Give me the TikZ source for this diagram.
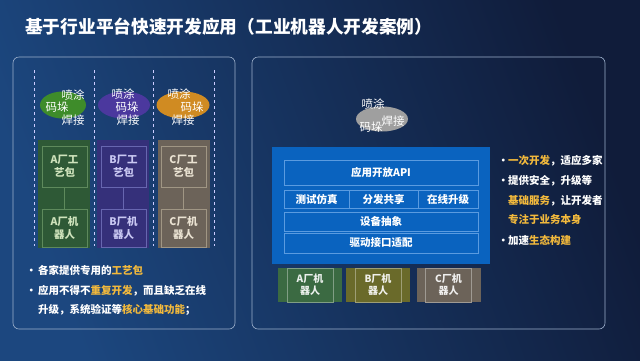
\documentclass[tikz,border=0pt]{standalone}
\usepackage{fontspec}
\setmainfont{Noto Sans CJK SC}
\usetikzlibrary{positioning,shapes.geometric,calc}
\definecolor{bgleft}{HTML}{1C477F}
\definecolor{bgright}{HTML}{101C3A}
\definecolor{panelline}{HTML}{9DB0CC}
\definecolor{hlgold}{HTML}{F2B93C}
\definecolor{blobgreen}{HTML}{3E8C2A}
\definecolor{blobpurple}{HTML}{4B389E}
\definecolor{bloborange}{HTML}{D08B22}
\definecolor{greencol}{HTML}{2E5936}
\definecolor{greenline}{HTML}{5E8A5C}
\definecolor{greentext}{HTML}{CFE3BC}
\definecolor{purplecol}{HTML}{35307A}
\definecolor{purpleline}{HTML}{6766B0}
\definecolor{purpletext}{HTML}{C9C8F2}
\definecolor{browncol}{HTML}{6C6359}
\definecolor{brownline}{HTML}{A09684}
\definecolor{browntext}{HTML}{EAE2D2}
\definecolor{platblue}{HTML}{0A63BF}
\definecolor{platline}{HTML}{5A9BE0}
\definecolor{robgreen}{HTML}{3B6A42}
\definecolor{robolive}{HTML}{6A6A2A}
\definecolor{robbrown}{HTML}{6C6359}
\newcommand{\hl}[1]{\textcolor{hlgold}{#1}}

\begin{document}
\begin{tikzpicture}[x=1pt, y=-1pt,
	panel/.style={draw=panelline, rounded corners=6pt, line width=0.6pt},
	sep/.style={draw=white!80!blue, dashed, line width=0.4pt},
	blob/.style={ellipse, minimum width=46pt, minimum height=27pt, inner sep=0pt},
	tag/.style={text=white, font=\fontsize{11.5}{12}\selectfont, inner sep=0pt},
	colbg/.style={minimum width=52pt, minimum height=108pt, inner sep=0pt},
	procbox/.style={draw, line width=0.6pt, align=center, minimum width=45pt, inner sep=0pt, font=\bfseries\fontsize{10.5}{13}\selectfont},
	layer/.style={draw=platline, line width=0.5pt, text=white, inner sep=0pt, font=\bfseries\fontsize{10.5}{11}\selectfont},
	robot/.style={minimum width=64pt, minimum height=34pt, inner sep=0pt},
	robframe/.style={draw=white!35!#1, line width=0.5pt, fill=#1, minimum width=46pt, minimum height=34pt, inner sep=0pt, align=center, text=white!90!#1, font=\bfseries\fontsize{10}{12}\selectfont},
	bullet/.style={anchor=west, inner sep=0pt, text=white, font=\bfseries\fontsize{10.5}{12}\selectfont}
	]
	% background and title
	\shade[left color=bgleft, right color=bgright, shading angle=110] (0,0) rectangle (640,360);
	\useasboundingbox (0,0) rectangle (640,360);
	\node[anchor=west, inner sep=0pt, text=white, font=\bfseries\fontsize{17.7}{19}\selectfont] (title) at (25,27) {基于行业平台快速开发应用（工业机器人开发案例）};

	% left panel
	\draw[panel] (13,57) rectangle (235,329);
	\foreach \x in {34,94,153,214}
		\draw[sep] (\x,70) -- (\x,246);

	\node[blob, fill=blobgreen] (blobA) at (63,105) {};
	\node[blob, fill=blobpurple, minimum width=52pt] (blobB) at (124,105) {};
	\node[blob, fill=bloborange, minimum width=53pt] (blobC) at (183,105) {};
	\node[tag] (paintA) at (73,95) {喷涂};
	\node[tag] (stackA) at (57,107) {码垛};
	\node[tag] (weldA) at (73,120) {焊接};
	\node[tag] (paintB) at (123,94) {喷涂};
	\node[tag] (stackB) at (127,107) {码垛};
	\node[tag] (weldB) at (128,120) {焊接};
	\node[tag] (paintC) at (179,94) {喷涂};
	\node[tag] (stackC) at (192,107) {码垛};
	\node[tag] (weldC) at (183,120) {焊接};

	\node[colbg, fill=greencol] (colA) at (64,194) {};
	\node[colbg, fill=purplecol] (colB) at (123,194) {};
	\node[colbg, fill=browncol] (colC) at (183.5,194) {};

	\node[procbox, draw=greenline, text=greentext, minimum height=41pt] (pkgA) at (64.5,166.5) {A厂工\\艺包};
	\node[procbox, draw=greenline, text=greentext, minimum height=38pt] (botA) at (64.5,228) {A厂机\\器人};
	\node[procbox, draw=purpleline, text=purpletext, minimum height=41pt] (pkgB) at (123.5,166.5) {B厂工\\艺包};
	\node[procbox, draw=purpleline, text=purpletext, minimum height=38pt] (botB) at (123.5,228) {B厂机\\器人};
	\node[procbox, draw=brownline, text=browntext, minimum height=41pt] (pkgC) at (183.5,166.5) {C厂工\\艺包};
	\node[procbox, draw=brownline, text=browntext, minimum height=38pt] (botC) at (183.5,228) {C厂机\\器人};
	\draw[greenline, line width=0.6pt] (pkgA) -- (botA);
	\draw[purpleline, line width=0.6pt] (pkgB) -- (botB);
	\draw[brownline, line width=0.6pt] (pkgC) -- (botC);

	\node[bullet] (noteL1) at (26,270) {\makebox[12pt][l]{•}各家提供专用的\hl{工艺包}};
	\node[bullet] (noteL2) at (26,291) {\makebox[12pt][l]{•}应用不得不\hl{重复开发}，而且缺乏在线};
	\node[bullet] (noteL3) at (38,310) {升级，系统验证等\hl{核心基础功能}；};

	% right panel
	\draw[panel] (252,57) rectangle (605,329);
	\node[ellipse, fill=gray!75, minimum width=52pt, minimum height=25pt, inner sep=0pt] (blobP) at (382,119) {};
	\node[tag] (paintP) at (373,104) {喷涂};
	\node[tag] (stackP) at (371,127) {码垛};
	\node[tag] (weldP) at (393,121) {焊接};

	\node[fill=platblue, minimum width=218pt, minimum height=117pt, inner sep=0pt] (platform) at (381,205.5) {};
	\node[layer, minimum width=194pt, minimum height=25pt] (api) at (381,172.5) {应用开放API};
	\node[layer, minimum width=65pt, minimum height=18pt] (simu) at (316.5,199) {测试仿真};
	\node[layer, minimum width=69pt, minimum height=18pt] (share) at (383.5,199) {分发共享};
	\node[layer, minimum width=60pt, minimum height=18pt] (online) at (448,199) {在线升级};
	\node[layer, minimum width=194pt, minimum height=19pt] (abstr) at (381,221.5) {设备抽象};
	\node[layer, minimum width=194pt, minimum height=20pt] (driver) at (381,243) {驱动接口适配};

	\node[robot, fill=robgreen] (robA) at (310,285) {};
	\node[robot, fill=robolive] (robB) at (378,285) {};
	\node[robot, fill=robbrown] (robC) at (448.5,285) {};
	\node[robframe=robgreen] (robAin) at (robA) {A厂机\\器人};
	\node[robframe=robolive] (robBin) at (robB) {B厂机\\器人};
	\node[robframe=robbrown] (robCin) at (robC) {C厂机\\器人};

	\node[bullet] (noteR1) at (498,161) {\makebox[10pt][l]{•}\hl{一次开发}，适应多家};
	\node[bullet] (noteR2) at (498,181) {\makebox[10pt][l]{•}提供安全，升级等};
	\node[bullet] (noteR3) at (508,201) {\hl{基础服务}，让开发者};
	\node[bullet] (noteR4) at (508,220) {\hl{专注于业务本身}};
	\node[bullet] (noteR5) at (498,240) {\makebox[10pt][l]{•}加速\hl{生态构建}};
\end{tikzpicture}
\end{document}
